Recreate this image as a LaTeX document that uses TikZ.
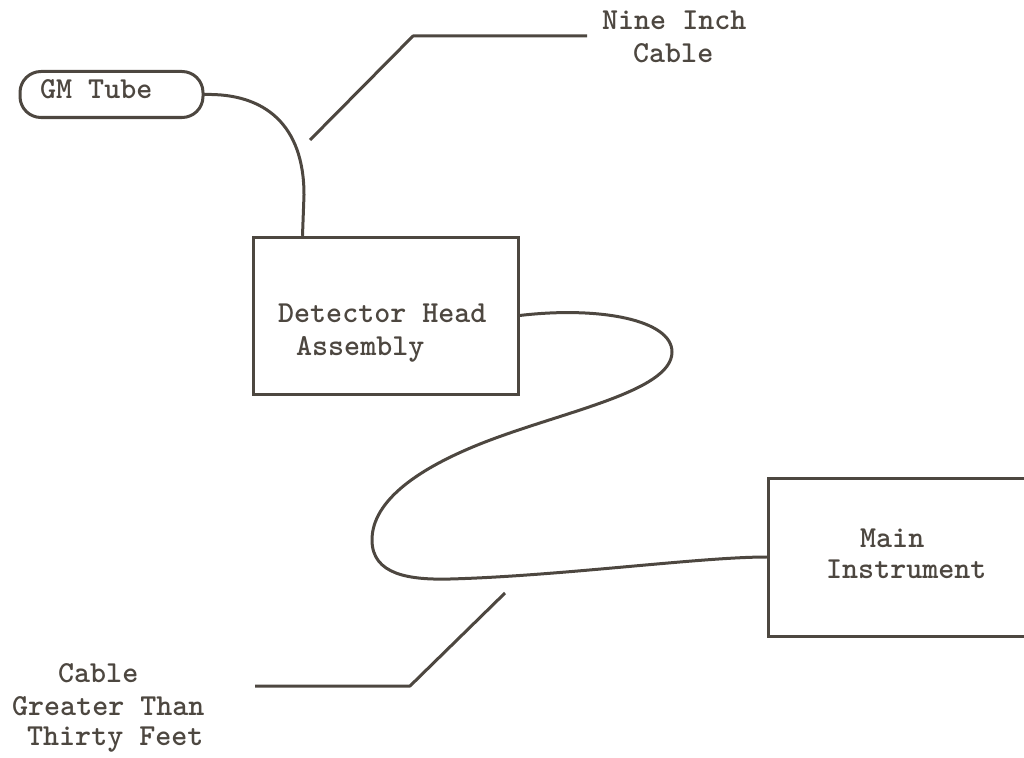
\documentclass[tikz,border=0pt]{standalone}
\usetikzlibrary{calc}
\definecolor{ink}{RGB}{77,71,64}
\begin{document}
\begin{tikzpicture}[x=1pt,y=-1pt,
  wire/.style={draw=ink,line width=3pt,line join=round,line cap=round},
  box/.style={draw=ink,line width=3pt,inner sep=0pt},
  txt/.style={inner sep=0pt,anchor=base west,text=ink,font=\fontsize{30.5}{33}\selectfont\ttfamily\bfseries}]
\useasboundingbox (0,0) rectangle (1024,757);
\clip (0,0) rectangle (1024,757);
% boxes
\node[box,rounded corners=21pt,minimum width=183pt,minimum height=46pt] (gm) at (111.5,94.5) {};
\node[box,minimum width=265pt,minimum height=157pt] (det) at (385.5,315.5) {};
\node[box,minimum width=280pt,minimum height=158pt] (main) at (908,557) {};
% texts
\node[txt] (tgm) at (40,99) {GM Tube};
\node[txt] (tdet1) at (278,322) {Detector Head};
\node[txt] (tdet2) at (296,355) {Assembly};
\node[txt] (tmain1) at (860,547) {Main};
\node[txt] (tmain2) at (826,578) {Instrument};
\node[txt] (tnine1) at (602,30) {Nine Inch};
\node[txt] (tnine2) at (633,63) {Cable};
\node[txt] (tc1) at (58,682) {Cable};
\node[txt] (tc2) at (12,715) {Greater Than};
\node[txt] (tc3) at (27,745) {Thirty Feet};
% short cable
\coordinate (dtop) at ([xshift=51pt]det.north west);
\draw[wire] (gm.east) .. controls (265,93) and (304,125) .. (304,195) -- (dtop);
% long cable
\draw[wire] (det.east) .. controls (600,306) and (672,320) .. (672,352)
  .. controls (672,392) and (560,412) .. (480,444)
  .. controls (420,468) and (372,500) .. (372,540)
  .. controls (372,575) and (410,580) .. (450,579)
  .. controls (560,576) and (700,557) .. (main.west);
% leaders
\coordinate (l1a) at (310,140);
\coordinate (l1b) at (413,36);
\coordinate (l1c) at (587,36);
\draw[wire,line cap=butt] (l1a) -- (l1b) -- (l1c);
\coordinate (l2a) at (505,593);
\coordinate (l2b) at (410,686);
\coordinate (l2c) at (255,686);
\draw[wire,line cap=butt] (l2a) -- (l2b) -- (l2c);
\end{tikzpicture}
\end{document}
